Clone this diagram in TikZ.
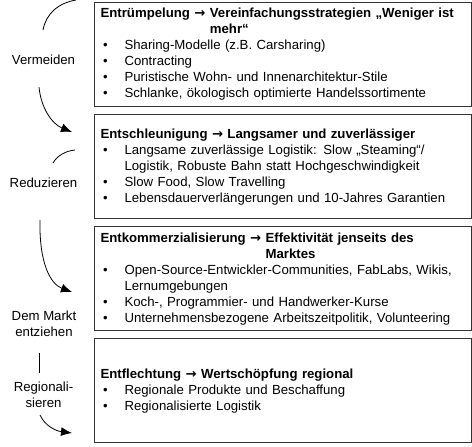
\documentclass[tikz,border=0pt]{standalone}
\usepackage{fontspec}
\setmainfont{Liberation Sans}
\newfontfamily\arrfont{DejaVu Sans}
\usetikzlibrary{positioning, arrows.meta}
\newcommand{\ttl}[2]{\setbox0\hbox{\bfseries #1 {\arrfont\bfseries →}\ }\hangindent=\wd0 \hangafter=1 \noindent\box0{\bfseries #2}\par}
\newcommand{\itm}{\par\hangindent=24pt\hangafter=1\noindent\makebox[24pt][l]{\hspace{2.5pt}\textbullet}}

\begin{document}
\begin{tikzpicture}[x=1pt, y=-1pt,
  box/.style={draw=black!80, line width=1.1pt, minimum height=104pt,
              text width=365pt, inner xsep=6pt, align=left,
              font=\fontsize{13.2}{16}\selectfont},
  lbl/.style={align=center, font=\fontsize{13.2}{16}\selectfont},
  arr/.style={-{Latex[length=11pt, width=9pt]}, line width=0.8pt},
  ln/.style={line width=0.8pt},
  node distance=7pt]
  \useasboundingbox (0,0) rectangle (472,447);
  % strategy boxes
  \node[box, anchor=north west] (b1) at (94,2) {\ttl{Entrümpelung}{Vereinfachungsstrategien „Weniger ist\newline mehr“}%
    \itm Sharing-Modelle (z.B. Carsharing)
    \itm Contracting
    \itm Puristische Wohn- und Innenarchitektur-Stile
    \itm Schlanke, ökologisch optimierte Handelssortimente};
  \node[box, below=of b1] (b2) {\ttl{Entschleunigung}{Langsamer und zuverlässiger}%
    \itm Langsame zuverlässige Logistik: Slow „Steaming“/\newline Logistik, Robuste Bahn statt Hochgeschwindigkeit
    \itm Slow Food, Slow Travelling
    \itm Lebensdauerverlängerungen und 10-Jahres Garantien};
  \node[box, below=of b2] (b3) {\ttl{Entkommerzialisierung}{Effektivität jenseits des\newline Marktes}%
    \itm Open-Source-Entwickler-Communities, FabLabs, Wikis,\newline Lernumgebungen
    \itm Koch-, Programmier- und Handwerker-Kurse
    \itm Unternehmensbezogene Arbeitszeitpolitik, Volunteering};
  \node[box, below=of b3] (b4) {\ttl{Entflechtung}{Wertschöpfung regional}%
    \itm Regionale Produkte und Beschaffung
    \itm Regionalisierte Logistik};
  % labels on the left
  \node[lbl] (verm) at (43.5,60) {Vermeiden};
  \node[lbl] (redu) at (43.5,183) {Reduzieren};
  \node[lbl] (mark) at (44,324) {Dem Markt\\entziehen};
  \node[lbl] (regi) at (43.5,395) {Regionali-\\sieren};
  % curved connectors
  \coordinate (c1a) at (43,30);  \coordinate (c1b) at (76,0);
  \coordinate (c2a) at (39,87);  \coordinate (c2b) at (72,132);
  \coordinate (c3a) at (53,163); \coordinate (c3b) at (75,150);
  \coordinate (c4a) at (40,220); \coordinate (c4b) at (72,292);
  \coordinate (c5a) at (39,353); \coordinate (c5b) at (39,373);
  \coordinate (c6a) at (40,415); \coordinate (c6b) at (72,433);
  \draw[ln] (c1a) .. controls (46,14) and (58,3) .. (c1b);
  \draw[arr] (c2a) .. controls (41,108) and (52,124) .. (c2b);
  \draw[ln] (c3a) .. controls (57,156) and (65,151) .. (c3b);
  \draw[arr] (c4a) .. controls (39,262) and (50,284) .. (c4b);
  \draw[ln] (c5a) -- (c5b);
  \draw[arr] (c6a) .. controls (45,426) and (56,431) .. (c6b);
\end{tikzpicture}
\end{document}
